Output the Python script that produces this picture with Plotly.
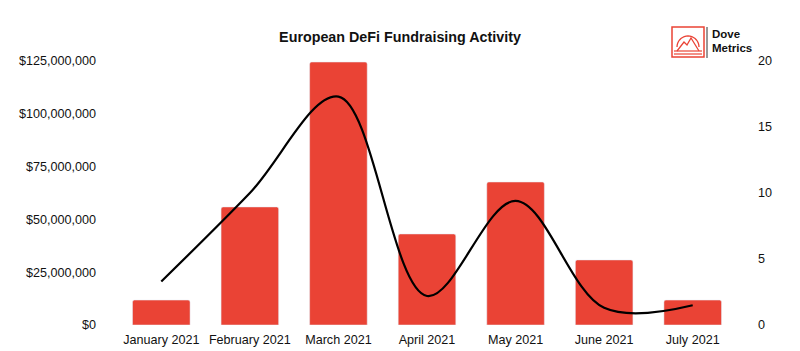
import plotly.graph_objects as go

months = ["January 2021", "February 2021", "March 2021", "April 2021",
          "May 2021", "June 2021", "July 2021"]
amount_raised = [11_800_000, 55_900_000, 124_500_000, 43_100_000,
                 67_700_000, 30_800_000, 11_800_000]
deal_count = [3.3, 10, 17.3, 2.2, 9.4, 1.3, 1.5]
left_ticks = [0, 25_000_000, 50_000_000, 75_000_000, 100_000_000, 125_000_000]
left_labels = ["$0", "$25,000,000", "$50,000,000", "$75,000,000",
               "$100,000,000", "$125,000,000"]
right_ticks = [0, 5, 10, 15, 20]

W, H = 800, 351
ML, MR, MT, MB = 117, 63, 61, 26
PW, PH = W - ML - MR, H - MT - MB


def px(x):
    return (x - ML) / PW


def py(y):
    return (H - MB - y) / PH


RED = "#EA4335"
FONT = "Liberation Sans, Arial, sans-serif"

fig = go.Figure()
fig.add_trace(go.Bar(x=months, y=amount_raised, marker=dict(color=RED, cornerradius=2),
                     yaxis="y", showlegend=False, hoverinfo="skip"))
fig.add_trace(go.Scatter(x=months, y=deal_count, yaxis="y2", mode="lines",
                         line=dict(color="black", width=2.2, shape="spline", smoothing=1.0),
                         showlegend=False, hoverinfo="skip"))

shapes = []
shapes.append(dict(type="rect", xref="paper", yref="paper", x0=px(672), x1=px(704),
                   y0=py(57), y1=py(27), line=dict(color=RED, width=1.5), fillcolor="rgba(0,0,0,0)"))


def arch_path(cx, cy, r):
    import math
    pts = []
    for i in range(0, 19):
        a = math.pi * i / 18
        pts.append((px(cx + r * math.cos(a)), py(cy - r * math.sin(a))))
    return "M " + " L ".join(f"{x},{y}" for x, y in pts)


shapes.append(dict(type="path", xref="paper", yref="paper", path=arch_path(688, 47, 11),
                   line=dict(color=RED, width=1.3)))
mountain = [(677, 51), (684, 42), (687, 45), (691, 38), (699, 51)]
shapes.append(dict(type="path", xref="paper", yref="paper",
                   path="M " + " L ".join(f"{px(x)},{py(y)}" for x, y in mountain),
                   line=dict(color=RED, width=1.3)))
for yy in (51, 54):
    shapes.append(dict(type="line", xref="paper", yref="paper", x0=px(674), x1=px(702),
                       y0=py(yy), y1=py(yy), line=dict(color=RED, width=1.2)))
shapes.append(dict(type="line", xref="paper", yref="paper", x0=px(707), x1=px(707),
                   y0=py(58), y1=py(27), line=dict(color="#333", width=1)))

annotations = [
    dict(text="<b>Dove</b>", xref="paper", yref="paper", x=px(710), y=py(34),
         xanchor="left", yanchor="middle", showarrow=False,
         font=dict(family=FONT, size=11.5, color="#111")),
    dict(text="<b>Metrics</b>", xref="paper", yref="paper", x=px(710), y=py(48),
         xanchor="left", yanchor="middle", showarrow=False,
         font=dict(family=FONT, size=11.5, color="#111")),
]

fig.update_layout(
    width=W, height=H,
    margin=dict(l=ML, r=MR, t=MT, b=MB),
    paper_bgcolor="white", plot_bgcolor="white",
    title=dict(text="<b>European DeFi Fundraising Activity</b>", x=0.5, xanchor="center",
               y=1 - 37 / H, yanchor="middle", font=dict(family=FONT, size=14.3, color="#111")),
    font=dict(family=FONT, size=12.6, color="#111"),
    bargap=0.35,
    xaxis=dict(showgrid=False, showline=False, ticks="", tickfont=dict(size=12.6),
               ticklabelstandoff=5, automargin=False),
    yaxis=dict(range=[0, 125_000_000], tickvals=left_ticks, ticktext=left_labels,
               showgrid=False, zeroline=False, showline=False, ticks="",
               tickfont=dict(size=12.6), ticklabelstandoff=20, automargin=False),
    yaxis2=dict(range=[0, 20], tickvals=right_ticks, overlaying="y", side="right",
                showgrid=False, zeroline=False, showline=False, ticks="",
                tickfont=dict(size=12.6), ticklabelstandoff=20, automargin=False),
    shapes=shapes,
    annotations=annotations,
)

fig.write_html("out.html")
